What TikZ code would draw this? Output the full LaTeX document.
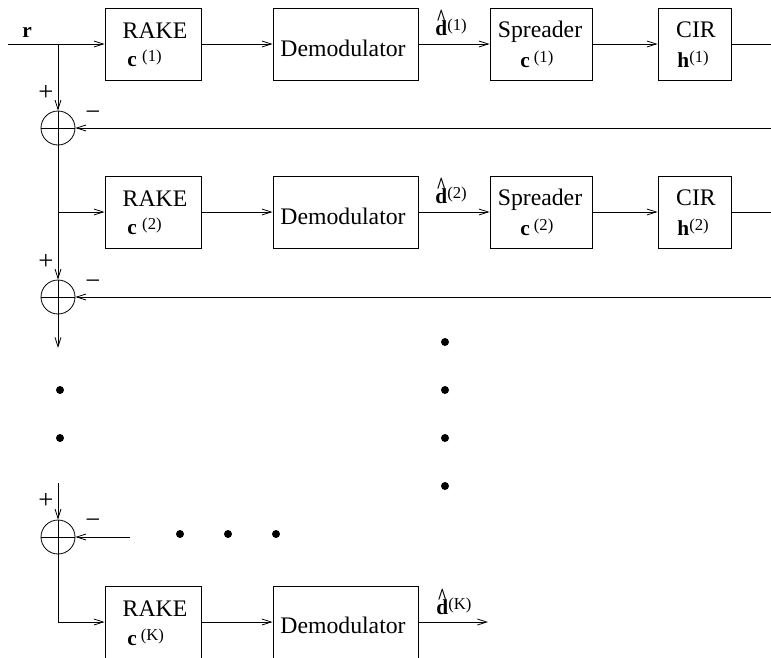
\documentclass[tikz,border=0pt]{standalone}
\usepackage{fontspec}
\setmainfont{Liberation Serif}
\usetikzlibrary{arrows.meta}
\newcommand\supl[3][0pt]{{\fontsize{16}{16}\selectfont\bfseries #2}\kern#1\raisebox{3.4pt}{\fontsize{12.5}{12.5}\selectfont(#3)}}
\newcommand\dhatlbl[1]{{\fontsize{16}{16}\selectfont\bfseries\ooalign{d\cr\hidewidth\raisebox{7.4pt}{\scalebox{0.8}[1.1]{\string^}}\hidewidth\cr}}\raisebox{3.6pt}{\fontsize{12.5}{12.5}\selectfont(#1)}}
\begin{document}
\begin{tikzpicture}[x=0.75pt,y=-0.75pt,line width=0.6pt,
  font=\fontsize{17.8}{21}\selectfont,
  blk/.style={draw,line width=0.7pt,inner sep=0,minimum height=54pt},
  rakebox/.style={blk,minimum width=72pt},
  dembox/.style={blk,minimum width=108.75pt},
  sprbox/.style={blk,minimum width=76.5pt},
  cirbox/.style={blk,minimum width=54.75pt},
  sumnode/.style={draw,circle,minimum size=25.5pt,inner sep=0},
  arr/.style={-{Straight Barb[length=7pt,width=4.5pt]}},
  txt/.style={inner sep=0,anchor=base},
  txtw/.style={inner sep=0,anchor=base west},
  sign/.style={inner sep=0,font=\fontsize{20}{20}\selectfont},
  dotn/.style={circle,fill,inner sep=0,minimum size=6pt}]
\useasboundingbox (0,0) rectangle (771,657);
\clip (0,0) rectangle (771,657);
% ---- boxes
\node[rakebox] (rake1) at (153,44) {};
\node[dembox]  (dem1)  at (345.5,44) {};
\node[sprbox]  (spr1)  at (541,44) {};
\node[cirbox]  (cir1)  at (694.5,44) {};
\node[rakebox] (rake2) at (153,212) {};
\node[dembox]  (dem2)  at (345.5,212) {};
\node[sprbox]  (spr2)  at (541,212) {};
\node[cirbox]  (cir2)  at (694.5,212) {};
\node[rakebox] (rakeK) at (153,622) {};
\node[dembox]  (demK)  at (345.5,622) {};
% ---- summing nodes
\node[sumnode] (s1) at (58,128) {};
\node[sumnode] (s2) at (58,297) {};
\node[sumnode] (s3) at (58,537) {};
\foreach \s in {s1,s2,s3}{
  \draw (\s.north) -- (\s.south);
  \draw (\s.west) -- (\s.east);
}
% ---- texts
\node[txt] (r) at (27,37) {\fontsize{16}{16}\selectfont\bfseries r};
\node[txt] (rake1t) at (155,38) {RAKE};
\node[txtw] (rake1c) at (127,66) {\supl[4pt]{c}{1}};
\node[txt] (dem1t) at (343,56) {Demodulator};
\node[txt] (spr1t) at (540,37) {Spreader};
\node[txtw] (spr1c) at (520,67) {\supl[3pt]{c}{1}};
\node[txt] (cir1t) at (696,37) {CIR};
\node[txtw] (cir1h) at (677,67) {\supl{h}{1}};
\node[txtw] (d1) at (435,35) {\dhatlbl{1}};
\node[txt] (rake2t) at (155,206) {RAKE};
\node[txtw] (rake2c) at (127,234) {\supl[4pt]{c}{2}};
\node[txt] (dem2t) at (343,224) {Demodulator};
\node[txt] (spr2t) at (540,205) {Spreader};
\node[txtw] (spr2c) at (520,235) {\supl[3pt]{c}{2}};
\node[txt] (cir2t) at (696,205) {CIR};
\node[txtw] (cir2h) at (677,235) {\supl{h}{2}};
\node[txtw] (d2) at (435,203) {\dhatlbl{2}};
\node[txt] (rakeKt) at (155,616) {RAKE};
\node[txtw] (rakeKc) at (127,645) {\supl[3pt]{c}{K}};
\node[txt] (demKt) at (343,633) {Demodulator};
\node[txtw] (dK) at (436,614) {\dhatlbl{K}};
\node[sign] (p1) at (46,93) {+};
\node[sign] (p2) at (46,262) {+};
\node[sign] (p3) at (46,501) {+};
\node[sign] (m1) at (93,116) {−};
\node[sign] (m2) at (93,285) {−};
\node[sign] (m3) at (93,524) {−};
% ---- dots
\node[dotn] (dl1) at (60,390) {};
\node[dotn] (dl2) at (60,438) {};
\node[dotn] (dm1) at (445,342) {};
\node[dotn] (dm2) at (445,390) {};
\node[dotn] (dm3) at (445,438) {};
\node[dotn] (dm4) at (445,486) {};
\node[dotn] (dh1) at (180,534) {};
\node[dotn] (dh2) at (228,534) {};
\node[dotn] (dh3) at (276,534) {};
% ---- coordinates
\coordinate (rin) at (8,44);
\coordinate (j1) at (58,44);
\coordinate (e1) at (771,44);
\coordinate (f1) at (771,128);
\coordinate (j2) at (58,212);
\coordinate (e2) at (771,212);
\coordinate (f2) at (771,297);
\coordinate (dn) at (58,348);
\coordinate (up3) at (58,483);
\coordinate (f3) at (130,537);
\coordinate (oK) at (488,622);
% ---- row 1
\draw[arr] (rin) -- (rake1.west);
\draw[arr] (j1) -- (s1.north);
\draw[arr] (rake1.east) -- (dem1.west);
\draw[arr] (dem1.east) -- (spr1.west);
\draw[arr] (spr1.east) -- (cir1.west);
\draw (cir1.east) -- (e1);
\draw[arr] (f1) -- (s1.east);
% ---- row 2
\draw (s1.south) -- (j2);
\draw[arr] (j2) -- (rake2.west);
\draw[arr] (j2) -- (s2.north);
\draw[arr] (rake2.east) -- (dem2.west);
\draw[arr] (dem2.east) -- (spr2.west);
\draw[arr] (spr2.east) -- (cir2.west);
\draw (cir2.east) -- (e2);
\draw[arr] (f2) -- (s2.east);
\draw[arr] (s2.south) -- (dn);
% ---- row K
\draw[arr] (up3) -- (s3.north);
\draw[arr] (f3) -- (s3.east);
\draw[arr] (s3.south) |- (rakeK.west);
\draw[arr] (rakeK.east) -- (demK.west);
\draw[arr] (demK.east) -- (oK);
\end{tikzpicture}
\end{document}
